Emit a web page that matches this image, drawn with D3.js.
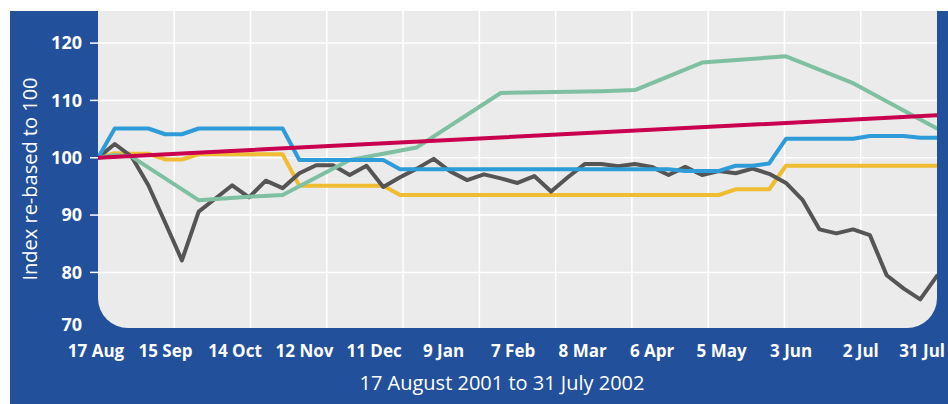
<!DOCTYPE html>
<html>
<head>
<meta charset="utf-8">
<script src="https://cdn.jsdelivr.net/npm/d3@7"></script>
<style>
  body { margin: 0; background: #fff; }
  svg { display: block; font-family: "Open Sans", sans-serif; }
</style>
</head>
<body>
<div id="chart"></div>
<script>
// weekly observations, 17 Aug 2001 onwards
const startDate = new Date(2001, 7, 17);
const weeks = d3.range(51).map((i) => d3.timeDay.offset(startDate, 7 * i));

const tickDates = [
  "2001-08-17", "2001-09-15", "2001-10-14", "2001-11-12", "2001-12-11",
  "2002-01-09", "2002-02-07", "2002-03-08", "2002-04-06", "2002-05-05",
  "2002-06-03", "2002-07-02", "2002-07-31",
];
const yTicks = [70, 80, 90, 100, 110, 120];

const blueValues = [
  100, 105.1, 105.1, 105.1, 104.1, 104.1, 105.1, 105.1, 105.1, 105.1,
  105.1, 105.1, 99.6, 99.6, 99.6, 99.6, 99.6, 99.6, 98.0, 98.0,
  98.0, 98.0, 98.0, 98.0, 98.0, 98.0, 98.0, 98.0, 98.0, 98.0,
  98.0, 98.0, 98.0, 98.0, 98.0, 97.7, 97.7, 97.7, 98.6, 98.6,
  99.0, 103.3, 103.3, 103.3, 103.3, 103.3, 103.8, 103.8, 103.8, 103.5,
  103.5,
];

const yellowValues = [
  100, 100.8, 100.7, 100.7, 99.7, 99.7, 100.6, 100.6, 100.6, 100.6,
  100.6, 100.6, 95.1, 95.1, 95.1, 95.1, 95.1, 95.1, 93.5, 93.5,
  93.5, 93.5, 93.5, 93.5, 93.5, 93.5, 93.5, 93.5, 93.5, 93.5,
  93.5, 93.5, 93.5, 93.5, 93.5, 93.5, 93.5, 93.5, 94.5, 94.5,
  94.5, 98.6, 98.6, 98.6, 98.6, 98.6, 98.6, 98.6, 98.6, 98.6,
  98.6,
];

const greyValues = [
  100, 102.4, 100.2, 95.2, 88.7, 82.1, 90.6, 92.9, 95.2, 93.1,
  96.0, 94.7, 97.3, 98.7, 98.7, 97.0, 98.6, 94.9, 96.6, 98.1,
  99.8, 97.6, 96.1, 97.1, 96.4, 95.6, 96.8, 94.1, 96.6, 98.9,
  98.9, 98.5, 98.9, 98.4, 97.0, 98.4, 97.0, 97.7, 97.3, 98.1,
  97.2, 95.6, 92.6, 87.5, 86.8, 87.5, 86.5, 79.5, 77.2, 75.3,
  79.4,
];

// green series only changes at a few weeks
const greenWeeks = [0, 1, 2, 6, 9, 11, 15, 19, 24, 30, 32, 36, 41, 45, 50];
const greenValues = [100, 100.5, 100.2, 92.6, 93.2, 93.5, 99.6, 101.8, 111.3, 111.6, 111.8, 116.6, 117.7, 113.0, 105.1];

const redWeeks = [0, 50];
const redValues = [100, 107.4];

const width = 948;
const height = 404;
const plot = { left: 98, right: 937, top: 11, bottom: 328, corner: 30 };

const svg = d3.select("#chart")
  .append("svg")
  .attr("width", width)
  .attr("height", height);

svg.append("rect")
  .attr("x", 10)
  .attr("y", 11)
  .attr("width", width - 10)
  .attr("height", height - 11)
  .attr("fill", "#22509a");

const x = d3.scaleTime()
  .domain([weeks[0], weeks[weeks.length - 1]])
  .range([plot.left, plot.right]);

const y = d3.scaleLinear()
  .domain([70.3, 125.6])
  .range([plot.bottom, plot.top]);

// plot background with rounded bottom corners
const bg = d3.path();
bg.moveTo(plot.left, plot.top);
bg.lineTo(plot.right, plot.top);
bg.lineTo(plot.right, plot.bottom - plot.corner);
bg.arcTo(plot.right, plot.bottom, plot.right - plot.corner, plot.bottom, plot.corner);
bg.lineTo(plot.left + plot.corner, plot.bottom);
bg.arcTo(plot.left, plot.bottom, plot.left, plot.bottom - plot.corner, plot.corner);
bg.closePath();

svg.append("clipPath")
  .attr("id", "plot-clip")
  .append("path")
  .attr("d", bg.toString());

svg.append("path")
  .attr("d", bg.toString())
  .attr("fill", "#ebebeb");

const grid = svg.append("g").attr("clip-path", "url(#plot-clip)");

// vertical grid splits the period into 11 equal parts
const gridX = d3.scaleLinear().domain([0, 11]).range(x.range());
grid.selectAll(".vgrid")
  .data(d3.range(1, 11))
  .join("line")
  .attr("class", "vgrid")
  .attr("x1", (d) => gridX(d))
  .attr("x2", (d) => gridX(d))
  .attr("y1", plot.top)
  .attr("y2", plot.bottom)
  .attr("stroke", "#fff")
  .attr("stroke-width", 1.5);

grid.selectAll(".hgrid")
  .data(yTicks.filter((d) => d > 70))
  .join("line")
  .attr("class", "hgrid")
  .attr("x1", plot.left)
  .attr("x2", plot.right)
  .attr("y1", (d) => y(d))
  .attr("y2", (d) => y(d))
  .attr("stroke", "#fff")
  .attr("stroke-width", 1.5);

// y axis
svg.selectAll(".ytick")
  .data(yTicks.filter((d) => d > 70))
  .join("line")
  .attr("class", "ytick")
  .attr("x1", plot.left - 8)
  .attr("x2", plot.left)
  .attr("y1", (d) => y(d))
  .attr("y2", (d) => y(d))
  .attr("stroke", "#fff")
  .attr("stroke-width", 1.5);

svg.selectAll(".ylabel")
  .data(yTicks)
  .join("text")
  .attr("class", "ylabel")
  .attr("x", 82)
  .attr("y", (d) => Math.min(y(d), 325))
  .attr("dy", "0.35em")
  .attr("text-anchor", "end")
  .attr("fill", "#fff")
  .attr("font-size", "18px")
  .attr("font-weight", "bold")
  .text((d) => d);

svg.append("text")
  .attr("transform", `translate(37, 179) rotate(-90)`)
  .attr("text-anchor", "middle")
  .attr("fill", "#fff")
  .attr("font-size", "20px")
  .text("Index re-based to 100");

// x axis labels
const parseDate = d3.timeParse("%Y-%m-%d");
const fmt = d3.timeFormat("%-d %b");
svg.selectAll(".xlabel")
  .data(tickDates.map(parseDate))
  .join("text")
  .attr("class", "xlabel")
  .attr("x", (d) => x(d) - 2)
  .attr("y", 357)
  .attr("text-anchor", "middle")
  .attr("fill", "#fff")
  .attr("font-size", "17px")
  .attr("font-weight", "bold")
  .text((d) => fmt(d))
  .each(function () {
    // keep the last label inside the panel
    const w = this.getComputedTextLength();
    const cx = +this.getAttribute("x");
    if (cx + w / 2 > width - 3) this.setAttribute("x", width - 3 - w / 2);
  });

svg.append("text")
  .attr("x", 502)
  .attr("y", 390)
  .attr("text-anchor", "middle")
  .attr("fill", "#fff")
  .attr("font-size", "20px")
  .text("17 August 2001 to 31 July 2002");

// series
const line = d3.line()
  .x((d) => x(d[0]))
  .y((d) => y(d[1]));

const series = [
  { color: "#f0bc32", pts: weeks.map((w, i) => [w, yellowValues[i]]) },
  { color: "#555555", pts: weeks.map((w, i) => [w, greyValues[i]]) },
  { color: "#7fc0a3", pts: greenWeeks.map((w, i) => [weeks[w], greenValues[i]]) },
  { color: "#2e9cd8", pts: weeks.map((w, i) => [w, blueValues[i]]) },
  { color: "#c8004e", pts: redWeeks.map((w, i) => [weeks[w], redValues[i]]) },
];

svg.append("g")
  .attr("clip-path", "url(#plot-clip)")
  .selectAll("path")
  .data(series)
  .join("path")
  .attr("d", (d) => line(d.pts))
  .attr("fill", "none")
  .attr("stroke", (d) => d.color)
  .attr("stroke-width", 4)
  .attr("stroke-linejoin", "round")
  .attr("stroke-linecap", "round");
</script>
</body>
</html>
